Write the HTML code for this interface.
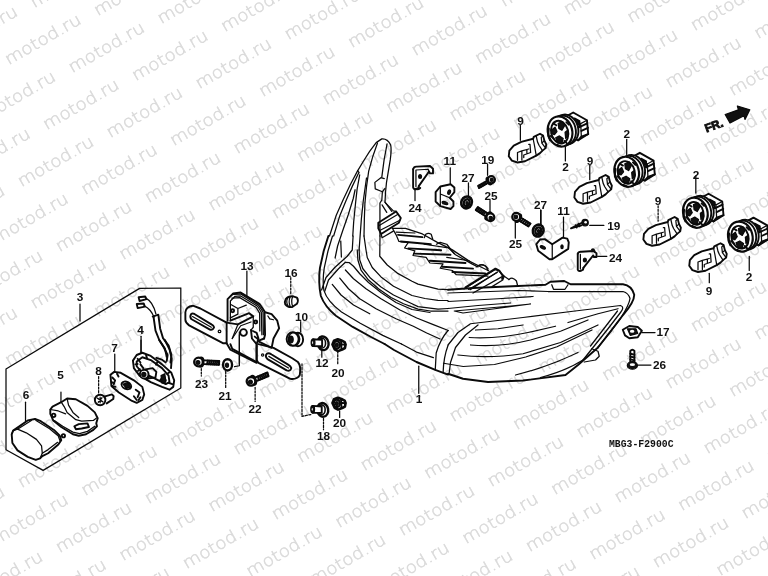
<!DOCTYPE html>
<html><head><meta charset="utf-8"><title>motod.ru</title>
<style>
html,body{margin:0;padding:0;background:#fff;}
body{width:768px;height:576px;overflow:hidden;position:relative;}
svg{position:absolute;left:0;top:0;display:block;}
.wm text{font-family:"DejaVu Sans Light","DejaVu Sans","Liberation Sans",sans-serif;font-weight:200;font-size:16.5px;fill:#dadada;stroke:#dadada;stroke-width:0.5px;}
.lb text{font-family:"Liberation Sans",sans-serif;font-weight:bold;font-size:11.8px;fill:#111;stroke:none;}
.d path,.d line,.d polyline,.d ellipse,.d circle,.d rect{fill:none;stroke:#0a0a0a;stroke-width:1.25;stroke-linecap:round;stroke-linejoin:round;vector-effect:non-scaling-stroke;}
.d .f{fill:#111;}
.d .w{fill:#fff;}
.d .t{stroke-width:0.7;stroke:#444;}
.d .k{stroke-width:1.9;}
</style></head><body>
<svg width="768" height="576" viewBox="0 0 768 576">
<rect width="768" height="576" fill="#fff"/>

<g class="wm" opacity="0.999">
<text transform="translate(-58.3,-32.8) rotate(-30)" x="-42.5" y="4.5" textLength="85" lengthAdjust="spacingAndGlyphs">motod.ru</text>
<text transform="translate(5.2,-24.8) rotate(-30)" x="-42.5" y="4.5" textLength="85" lengthAdjust="spacingAndGlyphs">motod.ru</text>
<text transform="translate(-20.2,32.2) rotate(-30)" x="-42.5" y="4.5" textLength="85" lengthAdjust="spacingAndGlyphs">motod.ru</text>
<text transform="translate(-45.6,89.2) rotate(-30)" x="-42.5" y="4.5" textLength="85" lengthAdjust="spacingAndGlyphs">motod.ru</text>
<text transform="translate(68.7,-16.8) rotate(-30)" x="-42.5" y="4.5" textLength="85" lengthAdjust="spacingAndGlyphs">motod.ru</text>
<text transform="translate(43.3,40.2) rotate(-30)" x="-42.5" y="4.5" textLength="85" lengthAdjust="spacingAndGlyphs">motod.ru</text>
<text transform="translate(17.9,97.2) rotate(-30)" x="-42.5" y="4.5" textLength="85" lengthAdjust="spacingAndGlyphs">motod.ru</text>
<text transform="translate(-7.5,154.2) rotate(-30)" x="-42.5" y="4.5" textLength="85" lengthAdjust="spacingAndGlyphs">motod.ru</text>
<text transform="translate(-32.9,211.2) rotate(-30)" x="-42.5" y="4.5" textLength="85" lengthAdjust="spacingAndGlyphs">motod.ru</text>
<text transform="translate(-58.3,268.2) rotate(-30)" x="-42.5" y="4.5" textLength="85" lengthAdjust="spacingAndGlyphs">motod.ru</text>
<text transform="translate(132.2,-8.8) rotate(-30)" x="-42.5" y="4.5" textLength="85" lengthAdjust="spacingAndGlyphs">motod.ru</text>
<text transform="translate(106.8,48.2) rotate(-30)" x="-42.5" y="4.5" textLength="85" lengthAdjust="spacingAndGlyphs">motod.ru</text>
<text transform="translate(81.4,105.2) rotate(-30)" x="-42.5" y="4.5" textLength="85" lengthAdjust="spacingAndGlyphs">motod.ru</text>
<text transform="translate(56.0,162.2) rotate(-30)" x="-42.5" y="4.5" textLength="85" lengthAdjust="spacingAndGlyphs">motod.ru</text>
<text transform="translate(30.6,219.2) rotate(-30)" x="-42.5" y="4.5" textLength="85" lengthAdjust="spacingAndGlyphs">motod.ru</text>
<text transform="translate(5.2,276.2) rotate(-30)" x="-42.5" y="4.5" textLength="85" lengthAdjust="spacingAndGlyphs">motod.ru</text>
<text transform="translate(-20.2,333.2) rotate(-30)" x="-42.5" y="4.5" textLength="85" lengthAdjust="spacingAndGlyphs">motod.ru</text>
<text transform="translate(-45.6,390.2) rotate(-30)" x="-42.5" y="4.5" textLength="85" lengthAdjust="spacingAndGlyphs">motod.ru</text>
<text transform="translate(195.7,-0.8) rotate(-30)" x="-42.5" y="4.5" textLength="85" lengthAdjust="spacingAndGlyphs">motod.ru</text>
<text transform="translate(170.3,56.2) rotate(-30)" x="-42.5" y="4.5" textLength="85" lengthAdjust="spacingAndGlyphs">motod.ru</text>
<text transform="translate(144.9,113.2) rotate(-30)" x="-42.5" y="4.5" textLength="85" lengthAdjust="spacingAndGlyphs">motod.ru</text>
<text transform="translate(119.5,170.2) rotate(-30)" x="-42.5" y="4.5" textLength="85" lengthAdjust="spacingAndGlyphs">motod.ru</text>
<text transform="translate(94.1,227.2) rotate(-30)" x="-42.5" y="4.5" textLength="85" lengthAdjust="spacingAndGlyphs">motod.ru</text>
<text transform="translate(68.7,284.2) rotate(-30)" x="-42.5" y="4.5" textLength="85" lengthAdjust="spacingAndGlyphs">motod.ru</text>
<text transform="translate(43.3,341.2) rotate(-30)" x="-42.5" y="4.5" textLength="85" lengthAdjust="spacingAndGlyphs">motod.ru</text>
<text transform="translate(17.9,398.2) rotate(-30)" x="-42.5" y="4.5" textLength="85" lengthAdjust="spacingAndGlyphs">motod.ru</text>
<text transform="translate(-7.5,455.2) rotate(-30)" x="-42.5" y="4.5" textLength="85" lengthAdjust="spacingAndGlyphs">motod.ru</text>
<text transform="translate(-32.9,512.2) rotate(-30)" x="-42.5" y="4.5" textLength="85" lengthAdjust="spacingAndGlyphs">motod.ru</text>
<text transform="translate(-58.3,569.2) rotate(-30)" x="-42.5" y="4.5" textLength="85" lengthAdjust="spacingAndGlyphs">motod.ru</text>
<text transform="translate(259.2,7.2) rotate(-30)" x="-42.5" y="4.5" textLength="85" lengthAdjust="spacingAndGlyphs">motod.ru</text>
<text transform="translate(233.8,64.2) rotate(-30)" x="-42.5" y="4.5" textLength="85" lengthAdjust="spacingAndGlyphs">motod.ru</text>
<text transform="translate(208.4,121.2) rotate(-30)" x="-42.5" y="4.5" textLength="85" lengthAdjust="spacingAndGlyphs">motod.ru</text>
<text transform="translate(183.0,178.2) rotate(-30)" x="-42.5" y="4.5" textLength="85" lengthAdjust="spacingAndGlyphs">motod.ru</text>
<text transform="translate(157.6,235.2) rotate(-30)" x="-42.5" y="4.5" textLength="85" lengthAdjust="spacingAndGlyphs">motod.ru</text>
<text transform="translate(132.2,292.2) rotate(-30)" x="-42.5" y="4.5" textLength="85" lengthAdjust="spacingAndGlyphs">motod.ru</text>
<text transform="translate(106.8,349.2) rotate(-30)" x="-42.5" y="4.5" textLength="85" lengthAdjust="spacingAndGlyphs">motod.ru</text>
<text transform="translate(81.4,406.2) rotate(-30)" x="-42.5" y="4.5" textLength="85" lengthAdjust="spacingAndGlyphs">motod.ru</text>
<text transform="translate(56.0,463.2) rotate(-30)" x="-42.5" y="4.5" textLength="85" lengthAdjust="spacingAndGlyphs">motod.ru</text>
<text transform="translate(30.6,520.2) rotate(-30)" x="-42.5" y="4.5" textLength="85" lengthAdjust="spacingAndGlyphs">motod.ru</text>
<text transform="translate(5.2,577.2) rotate(-30)" x="-42.5" y="4.5" textLength="85" lengthAdjust="spacingAndGlyphs">motod.ru</text>
<text transform="translate(322.7,15.2) rotate(-30)" x="-42.5" y="4.5" textLength="85" lengthAdjust="spacingAndGlyphs">motod.ru</text>
<text transform="translate(297.3,72.2) rotate(-30)" x="-42.5" y="4.5" textLength="85" lengthAdjust="spacingAndGlyphs">motod.ru</text>
<text transform="translate(271.9,129.2) rotate(-30)" x="-42.5" y="4.5" textLength="85" lengthAdjust="spacingAndGlyphs">motod.ru</text>
<text transform="translate(246.5,186.2) rotate(-30)" x="-42.5" y="4.5" textLength="85" lengthAdjust="spacingAndGlyphs">motod.ru</text>
<text transform="translate(221.1,243.2) rotate(-30)" x="-42.5" y="4.5" textLength="85" lengthAdjust="spacingAndGlyphs">motod.ru</text>
<text transform="translate(195.7,300.2) rotate(-30)" x="-42.5" y="4.5" textLength="85" lengthAdjust="spacingAndGlyphs">motod.ru</text>
<text transform="translate(170.3,357.2) rotate(-30)" x="-42.5" y="4.5" textLength="85" lengthAdjust="spacingAndGlyphs">motod.ru</text>
<text transform="translate(144.9,414.2) rotate(-30)" x="-42.5" y="4.5" textLength="85" lengthAdjust="spacingAndGlyphs">motod.ru</text>
<text transform="translate(119.5,471.2) rotate(-30)" x="-42.5" y="4.5" textLength="85" lengthAdjust="spacingAndGlyphs">motod.ru</text>
<text transform="translate(94.1,528.2) rotate(-30)" x="-42.5" y="4.5" textLength="85" lengthAdjust="spacingAndGlyphs">motod.ru</text>
<text transform="translate(68.7,585.2) rotate(-30)" x="-42.5" y="4.5" textLength="85" lengthAdjust="spacingAndGlyphs">motod.ru</text>
<text transform="translate(411.6,-33.8) rotate(-30)" x="-42.5" y="4.5" textLength="85" lengthAdjust="spacingAndGlyphs">motod.ru</text>
<text transform="translate(386.2,23.2) rotate(-30)" x="-42.5" y="4.5" textLength="85" lengthAdjust="spacingAndGlyphs">motod.ru</text>
<text transform="translate(360.8,80.2) rotate(-30)" x="-42.5" y="4.5" textLength="85" lengthAdjust="spacingAndGlyphs">motod.ru</text>
<text transform="translate(335.4,137.2) rotate(-30)" x="-42.5" y="4.5" textLength="85" lengthAdjust="spacingAndGlyphs">motod.ru</text>
<text transform="translate(310.0,194.2) rotate(-30)" x="-42.5" y="4.5" textLength="85" lengthAdjust="spacingAndGlyphs">motod.ru</text>
<text transform="translate(284.6,251.2) rotate(-30)" x="-42.5" y="4.5" textLength="85" lengthAdjust="spacingAndGlyphs">motod.ru</text>
<text transform="translate(259.2,308.2) rotate(-30)" x="-42.5" y="4.5" textLength="85" lengthAdjust="spacingAndGlyphs">motod.ru</text>
<text transform="translate(233.8,365.2) rotate(-30)" x="-42.5" y="4.5" textLength="85" lengthAdjust="spacingAndGlyphs">motod.ru</text>
<text transform="translate(208.4,422.2) rotate(-30)" x="-42.5" y="4.5" textLength="85" lengthAdjust="spacingAndGlyphs">motod.ru</text>
<text transform="translate(183.0,479.2) rotate(-30)" x="-42.5" y="4.5" textLength="85" lengthAdjust="spacingAndGlyphs">motod.ru</text>
<text transform="translate(157.6,536.2) rotate(-30)" x="-42.5" y="4.5" textLength="85" lengthAdjust="spacingAndGlyphs">motod.ru</text>
<text transform="translate(132.2,593.2) rotate(-30)" x="-42.5" y="4.5" textLength="85" lengthAdjust="spacingAndGlyphs">motod.ru</text>
<text transform="translate(475.1,-25.8) rotate(-30)" x="-42.5" y="4.5" textLength="85" lengthAdjust="spacingAndGlyphs">motod.ru</text>
<text transform="translate(449.7,31.2) rotate(-30)" x="-42.5" y="4.5" textLength="85" lengthAdjust="spacingAndGlyphs">motod.ru</text>
<text transform="translate(424.3,88.2) rotate(-30)" x="-42.5" y="4.5" textLength="85" lengthAdjust="spacingAndGlyphs">motod.ru</text>
<text transform="translate(398.9,145.2) rotate(-30)" x="-42.5" y="4.5" textLength="85" lengthAdjust="spacingAndGlyphs">motod.ru</text>
<text transform="translate(373.5,202.2) rotate(-30)" x="-42.5" y="4.5" textLength="85" lengthAdjust="spacingAndGlyphs">motod.ru</text>
<text transform="translate(348.1,259.2) rotate(-30)" x="-42.5" y="4.5" textLength="85" lengthAdjust="spacingAndGlyphs">motod.ru</text>
<text transform="translate(322.7,316.2) rotate(-30)" x="-42.5" y="4.5" textLength="85" lengthAdjust="spacingAndGlyphs">motod.ru</text>
<text transform="translate(297.3,373.2) rotate(-30)" x="-42.5" y="4.5" textLength="85" lengthAdjust="spacingAndGlyphs">motod.ru</text>
<text transform="translate(271.9,430.2) rotate(-30)" x="-42.5" y="4.5" textLength="85" lengthAdjust="spacingAndGlyphs">motod.ru</text>
<text transform="translate(246.5,487.2) rotate(-30)" x="-42.5" y="4.5" textLength="85" lengthAdjust="spacingAndGlyphs">motod.ru</text>
<text transform="translate(221.1,544.2) rotate(-30)" x="-42.5" y="4.5" textLength="85" lengthAdjust="spacingAndGlyphs">motod.ru</text>
<text transform="translate(195.7,601.2) rotate(-30)" x="-42.5" y="4.5" textLength="85" lengthAdjust="spacingAndGlyphs">motod.ru</text>
<text transform="translate(538.6,-17.8) rotate(-30)" x="-42.5" y="4.5" textLength="85" lengthAdjust="spacingAndGlyphs">motod.ru</text>
<text transform="translate(513.2,39.2) rotate(-30)" x="-42.5" y="4.5" textLength="85" lengthAdjust="spacingAndGlyphs">motod.ru</text>
<text transform="translate(487.8,96.2) rotate(-30)" x="-42.5" y="4.5" textLength="85" lengthAdjust="spacingAndGlyphs">motod.ru</text>
<text transform="translate(462.4,153.2) rotate(-30)" x="-42.5" y="4.5" textLength="85" lengthAdjust="spacingAndGlyphs">motod.ru</text>
<text transform="translate(437.0,210.2) rotate(-30)" x="-42.5" y="4.5" textLength="85" lengthAdjust="spacingAndGlyphs">motod.ru</text>
<text transform="translate(411.6,267.2) rotate(-30)" x="-42.5" y="4.5" textLength="85" lengthAdjust="spacingAndGlyphs">motod.ru</text>
<text transform="translate(386.2,324.2) rotate(-30)" x="-42.5" y="4.5" textLength="85" lengthAdjust="spacingAndGlyphs">motod.ru</text>
<text transform="translate(360.8,381.2) rotate(-30)" x="-42.5" y="4.5" textLength="85" lengthAdjust="spacingAndGlyphs">motod.ru</text>
<text transform="translate(335.4,438.2) rotate(-30)" x="-42.5" y="4.5" textLength="85" lengthAdjust="spacingAndGlyphs">motod.ru</text>
<text transform="translate(310.0,495.2) rotate(-30)" x="-42.5" y="4.5" textLength="85" lengthAdjust="spacingAndGlyphs">motod.ru</text>
<text transform="translate(284.6,552.2) rotate(-30)" x="-42.5" y="4.5" textLength="85" lengthAdjust="spacingAndGlyphs">motod.ru</text>
<text transform="translate(259.2,609.2) rotate(-30)" x="-42.5" y="4.5" textLength="85" lengthAdjust="spacingAndGlyphs">motod.ru</text>
<text transform="translate(602.1,-9.8) rotate(-30)" x="-42.5" y="4.5" textLength="85" lengthAdjust="spacingAndGlyphs">motod.ru</text>
<text transform="translate(576.7,47.2) rotate(-30)" x="-42.5" y="4.5" textLength="85" lengthAdjust="spacingAndGlyphs">motod.ru</text>
<text transform="translate(551.3,104.2) rotate(-30)" x="-42.5" y="4.5" textLength="85" lengthAdjust="spacingAndGlyphs">motod.ru</text>
<text transform="translate(525.9,161.2) rotate(-30)" x="-42.5" y="4.5" textLength="85" lengthAdjust="spacingAndGlyphs">motod.ru</text>
<text transform="translate(500.5,218.2) rotate(-30)" x="-42.5" y="4.5" textLength="85" lengthAdjust="spacingAndGlyphs">motod.ru</text>
<text transform="translate(475.1,275.2) rotate(-30)" x="-42.5" y="4.5" textLength="85" lengthAdjust="spacingAndGlyphs">motod.ru</text>
<text transform="translate(449.7,332.2) rotate(-30)" x="-42.5" y="4.5" textLength="85" lengthAdjust="spacingAndGlyphs">motod.ru</text>
<text transform="translate(424.3,389.2) rotate(-30)" x="-42.5" y="4.5" textLength="85" lengthAdjust="spacingAndGlyphs">motod.ru</text>
<text transform="translate(398.9,446.2) rotate(-30)" x="-42.5" y="4.5" textLength="85" lengthAdjust="spacingAndGlyphs">motod.ru</text>
<text transform="translate(373.5,503.2) rotate(-30)" x="-42.5" y="4.5" textLength="85" lengthAdjust="spacingAndGlyphs">motod.ru</text>
<text transform="translate(348.1,560.2) rotate(-30)" x="-42.5" y="4.5" textLength="85" lengthAdjust="spacingAndGlyphs">motod.ru</text>
<text transform="translate(665.6,-1.8) rotate(-30)" x="-42.5" y="4.5" textLength="85" lengthAdjust="spacingAndGlyphs">motod.ru</text>
<text transform="translate(640.2,55.2) rotate(-30)" x="-42.5" y="4.5" textLength="85" lengthAdjust="spacingAndGlyphs">motod.ru</text>
<text transform="translate(614.8,112.2) rotate(-30)" x="-42.5" y="4.5" textLength="85" lengthAdjust="spacingAndGlyphs">motod.ru</text>
<text transform="translate(589.4,169.2) rotate(-30)" x="-42.5" y="4.5" textLength="85" lengthAdjust="spacingAndGlyphs">motod.ru</text>
<text transform="translate(564.0,226.2) rotate(-30)" x="-42.5" y="4.5" textLength="85" lengthAdjust="spacingAndGlyphs">motod.ru</text>
<text transform="translate(538.6,283.2) rotate(-30)" x="-42.5" y="4.5" textLength="85" lengthAdjust="spacingAndGlyphs">motod.ru</text>
<text transform="translate(513.2,340.2) rotate(-30)" x="-42.5" y="4.5" textLength="85" lengthAdjust="spacingAndGlyphs">motod.ru</text>
<text transform="translate(487.8,397.2) rotate(-30)" x="-42.5" y="4.5" textLength="85" lengthAdjust="spacingAndGlyphs">motod.ru</text>
<text transform="translate(462.4,454.2) rotate(-30)" x="-42.5" y="4.5" textLength="85" lengthAdjust="spacingAndGlyphs">motod.ru</text>
<text transform="translate(437.0,511.2) rotate(-30)" x="-42.5" y="4.5" textLength="85" lengthAdjust="spacingAndGlyphs">motod.ru</text>
<text transform="translate(411.6,568.2) rotate(-30)" x="-42.5" y="4.5" textLength="85" lengthAdjust="spacingAndGlyphs">motod.ru</text>
<text transform="translate(729.1,6.2) rotate(-30)" x="-42.5" y="4.5" textLength="85" lengthAdjust="spacingAndGlyphs">motod.ru</text>
<text transform="translate(703.7,63.2) rotate(-30)" x="-42.5" y="4.5" textLength="85" lengthAdjust="spacingAndGlyphs">motod.ru</text>
<text transform="translate(678.3,120.2) rotate(-30)" x="-42.5" y="4.5" textLength="85" lengthAdjust="spacingAndGlyphs">motod.ru</text>
<text transform="translate(652.9,177.2) rotate(-30)" x="-42.5" y="4.5" textLength="85" lengthAdjust="spacingAndGlyphs">motod.ru</text>
<text transform="translate(627.5,234.2) rotate(-30)" x="-42.5" y="4.5" textLength="85" lengthAdjust="spacingAndGlyphs">motod.ru</text>
<text transform="translate(602.1,291.2) rotate(-30)" x="-42.5" y="4.5" textLength="85" lengthAdjust="spacingAndGlyphs">motod.ru</text>
<text transform="translate(576.7,348.2) rotate(-30)" x="-42.5" y="4.5" textLength="85" lengthAdjust="spacingAndGlyphs">motod.ru</text>
<text transform="translate(551.3,405.2) rotate(-30)" x="-42.5" y="4.5" textLength="85" lengthAdjust="spacingAndGlyphs">motod.ru</text>
<text transform="translate(525.9,462.2) rotate(-30)" x="-42.5" y="4.5" textLength="85" lengthAdjust="spacingAndGlyphs">motod.ru</text>
<text transform="translate(500.5,519.2) rotate(-30)" x="-42.5" y="4.5" textLength="85" lengthAdjust="spacingAndGlyphs">motod.ru</text>
<text transform="translate(475.1,576.2) rotate(-30)" x="-42.5" y="4.5" textLength="85" lengthAdjust="spacingAndGlyphs">motod.ru</text>
<text transform="translate(792.6,14.2) rotate(-30)" x="-42.5" y="4.5" textLength="85" lengthAdjust="spacingAndGlyphs">motod.ru</text>
<text transform="translate(767.2,71.2) rotate(-30)" x="-42.5" y="4.5" textLength="85" lengthAdjust="spacingAndGlyphs">motod.ru</text>
<text transform="translate(741.8,128.2) rotate(-30)" x="-42.5" y="4.5" textLength="85" lengthAdjust="spacingAndGlyphs">motod.ru</text>
<text transform="translate(716.4,185.2) rotate(-30)" x="-42.5" y="4.5" textLength="85" lengthAdjust="spacingAndGlyphs">motod.ru</text>
<text transform="translate(691.0,242.2) rotate(-30)" x="-42.5" y="4.5" textLength="85" lengthAdjust="spacingAndGlyphs">motod.ru</text>
<text transform="translate(665.6,299.2) rotate(-30)" x="-42.5" y="4.5" textLength="85" lengthAdjust="spacingAndGlyphs">motod.ru</text>
<text transform="translate(640.2,356.2) rotate(-30)" x="-42.5" y="4.5" textLength="85" lengthAdjust="spacingAndGlyphs">motod.ru</text>
<text transform="translate(614.8,413.2) rotate(-30)" x="-42.5" y="4.5" textLength="85" lengthAdjust="spacingAndGlyphs">motod.ru</text>
<text transform="translate(589.4,470.2) rotate(-30)" x="-42.5" y="4.5" textLength="85" lengthAdjust="spacingAndGlyphs">motod.ru</text>
<text transform="translate(564.0,527.2) rotate(-30)" x="-42.5" y="4.5" textLength="85" lengthAdjust="spacingAndGlyphs">motod.ru</text>
<text transform="translate(538.6,584.2) rotate(-30)" x="-42.5" y="4.5" textLength="85" lengthAdjust="spacingAndGlyphs">motod.ru</text>
<text transform="translate(805.3,136.2) rotate(-30)" x="-42.5" y="4.5" textLength="85" lengthAdjust="spacingAndGlyphs">motod.ru</text>
<text transform="translate(779.9,193.2) rotate(-30)" x="-42.5" y="4.5" textLength="85" lengthAdjust="spacingAndGlyphs">motod.ru</text>
<text transform="translate(754.5,250.2) rotate(-30)" x="-42.5" y="4.5" textLength="85" lengthAdjust="spacingAndGlyphs">motod.ru</text>
<text transform="translate(729.1,307.2) rotate(-30)" x="-42.5" y="4.5" textLength="85" lengthAdjust="spacingAndGlyphs">motod.ru</text>
<text transform="translate(703.7,364.2) rotate(-30)" x="-42.5" y="4.5" textLength="85" lengthAdjust="spacingAndGlyphs">motod.ru</text>
<text transform="translate(678.3,421.2) rotate(-30)" x="-42.5" y="4.5" textLength="85" lengthAdjust="spacingAndGlyphs">motod.ru</text>
<text transform="translate(652.9,478.2) rotate(-30)" x="-42.5" y="4.5" textLength="85" lengthAdjust="spacingAndGlyphs">motod.ru</text>
<text transform="translate(627.5,535.2) rotate(-30)" x="-42.5" y="4.5" textLength="85" lengthAdjust="spacingAndGlyphs">motod.ru</text>
<text transform="translate(602.1,592.2) rotate(-30)" x="-42.5" y="4.5" textLength="85" lengthAdjust="spacingAndGlyphs">motod.ru</text>
<text transform="translate(818.0,258.2) rotate(-30)" x="-42.5" y="4.5" textLength="85" lengthAdjust="spacingAndGlyphs">motod.ru</text>
<text transform="translate(792.6,315.2) rotate(-30)" x="-42.5" y="4.5" textLength="85" lengthAdjust="spacingAndGlyphs">motod.ru</text>
<text transform="translate(767.2,372.2) rotate(-30)" x="-42.5" y="4.5" textLength="85" lengthAdjust="spacingAndGlyphs">motod.ru</text>
<text transform="translate(741.8,429.2) rotate(-30)" x="-42.5" y="4.5" textLength="85" lengthAdjust="spacingAndGlyphs">motod.ru</text>
<text transform="translate(716.4,486.2) rotate(-30)" x="-42.5" y="4.5" textLength="85" lengthAdjust="spacingAndGlyphs">motod.ru</text>
<text transform="translate(691.0,543.2) rotate(-30)" x="-42.5" y="4.5" textLength="85" lengthAdjust="spacingAndGlyphs">motod.ru</text>
<text transform="translate(665.6,600.2) rotate(-30)" x="-42.5" y="4.5" textLength="85" lengthAdjust="spacingAndGlyphs">motod.ru</text>
<text transform="translate(805.3,437.2) rotate(-30)" x="-42.5" y="4.5" textLength="85" lengthAdjust="spacingAndGlyphs">motod.ru</text>
<text transform="translate(779.9,494.2) rotate(-30)" x="-42.5" y="4.5" textLength="85" lengthAdjust="spacingAndGlyphs">motod.ru</text>
<text transform="translate(754.5,551.2) rotate(-30)" x="-42.5" y="4.5" textLength="85" lengthAdjust="spacingAndGlyphs">motod.ru</text>
<text transform="translate(729.1,608.2) rotate(-30)" x="-42.5" y="4.5" textLength="85" lengthAdjust="spacingAndGlyphs">motod.ru</text>
<text transform="translate(818.0,559.2) rotate(-30)" x="-42.5" y="4.5" textLength="85" lengthAdjust="spacingAndGlyphs">motod.ru</text>
</g>
<g class="d">
<g transform="translate(304,128) scale(0.187500)">
<path d="M136,576 L172,465 L210,380 L248,300 L285,230 L315,180 L350,125 L385,78 L415,58 Q445,55 462,90 Q468,110 460,170 L450,230 L440,290 L435,340 L432,395"/>
<path d="M392,80 Q365,150 345,230 Q332,310 325,400 L322,480 L320,576"/>
<path d="M443,85 Q425,170 415,262"/>
<path d="M286,228 L294,238 L290,243 L258,310 L225,385 L192,465 L158,576"/>
<path d="M297,250 Q280,330 275,400 L265,500 L260,576"/>
<path d="M378,290 L410,265 L428,270 M378,290 L380,325 L418,340 L432,322 M418,340 L415,385 L405,400 L405,576"/>
<path d="M432,395 L468,445"/>
</g>
<g transform="translate(304,236) scale(0.187500)">
<path class="k" d="M130,0 L105,80 L85,170 Q75,250 90,320 Q110,375 170,425 L260,485 L360,540 L430,576"/>
<path d="M152,0 L128,80 L108,170 Q98,235 106,290 Q125,350 200,405 L300,465 L420,530 L520,576"/>
</g>
<g transform="translate(448,236) scale(0.187500)">
<path d="M0,60 L40,100 L130,150 L160,165"/>
<path d="M150,165 Q175,145 200,160 L215,185"/>
<path d="M85,282 L250,180 L270,185 L300,215 L292,235 L235,270"/>
<path d="M110,285 L262,195"/>
<path d="M325,232 Q345,215 365,240 L372,268"/>
<path d="M300,215 L325,232"/>
</g>
<g transform="translate(400,164) scale(0.187500)">
<path class="k" d="M70,28 L70,125 Q72,136 85,133 L100,128 L100,118"/>
<path class="k" d="M70,28 Q74,12 90,14 L160,11 L176,25 L176,50 L160,50 L155,40 L100,118"/>
<path d="M85,32 L85,120 M85,32 L150,28 L155,40"/>
<ellipse class="f" cx="107" cy="66" rx="8" ry="10"/>
<path class="k" d="M78,132 Q95,140 108,128"/>
<path d="M80,140 L80,195"/>
<path class="k" d="M190,150 L215,120 L270,108 L290,125 L290,150 L265,180 L285,200 L285,225 L270,240 L215,225 L190,200 Z"/>
<path d="M215,120 L215,225 M215,160 L265,180"/>
<ellipse class="f" cx="262" cy="150" rx="7" ry="12" transform="rotate(20 262 150)"/>
<ellipse class="f" cx="240" cy="208" rx="16" ry="7" transform="rotate(20 240 208)"/>
<path d="M268,20 L268,105"/>
<path d="M365,100 L365,175"/>
<path d="M467,0 L467,60"/>
<path d="M480,195 L480,260"/>
<path d="M615,310 L615,395"/>
<path d="M750,245 L750,325"/>
<ellipse class="w" cx="355" cy="205" rx="28" ry="32" transform="rotate(25 355 205)" style="stroke-width:2.6"/>
<ellipse class="w" cx="356" cy="206" rx="15" ry="19" transform="rotate(25 355 205)" style="stroke-width:2.4"/>
<ellipse class="f" cx="357" cy="208" rx="6" ry="8"/>
<ellipse class="w" cx="737" cy="355" rx="28" ry="32" transform="rotate(25 737 355)" style="stroke-width:2.6"/>
<ellipse class="w" cx="738" cy="356" rx="15" ry="19" transform="rotate(25 737 355)" style="stroke-width:2.4"/>
<ellipse class="f" cx="739" cy="358" rx="6" ry="8"/>
<path class="k w" d="M482,80 L417,117 L423,127 L488,90 Z"/>
<path class="k" d="M456,95 L458,107"/>
<path class="k" d="M447,100 L449,112"/>
<path class="k" d="M437,105 L440,118"/>
<path class="k" d="M428,110 L431,123"/>
<path class="k" d="M419,116 L421,128"/>
<ellipse class="w" cx="476" cy="90" rx="11" ry="21" transform="rotate(150 476 90)" style="stroke-width:1.9"/>
<circle class="w" cx="487" cy="84" r="19" style="stroke-width:2.3"/>
<circle class="f" cx="489" cy="85" r="8"/>
<path class="k w" d="M485,275 L415,230 L405,246 L475,291 Z"/>
<path class="k" d="M457,257 L444,270"/>
<path class="k" d="M449,252 L436,265"/>
<path class="k" d="M441,247 L428,260"/>
<path class="k" d="M433,242 L420,255"/>
<path class="k" d="M425,237 L412,250"/>
<path class="k" d="M417,232 L404,245"/>
<ellipse class="w" cx="471" cy="277" rx="12" ry="23" transform="rotate(-147 471 277)" style="stroke-width:1.9"/>
<circle class="w" cx="482" cy="284" r="21" style="stroke-width:2.3"/>
<circle class="f" cx="484" cy="288" r="9"/>
<path class="k w" d="M617,291 L685,333 L695,317 L627,275 Z"/>
<path class="k" d="M644,307 L657,294"/>
<path class="k" d="M654,313 L667,300"/>
<path class="k" d="M664,319 L677,306"/>
<path class="k" d="M674,325 L686,312"/>
<path class="k" d="M683,331 L696,318"/>
<ellipse class="w" cx="631" cy="289" rx="12" ry="23" transform="rotate(32 631 289)" style="stroke-width:1.9"/>
<circle class="w" cx="620" cy="282" r="21" style="stroke-width:2.3"/>
<circle class="f" cx="618" cy="282" r="9"/>
</g>
<g transform="translate(368,188) scale(0.187500)">
<path class="k" d="M55,185 L150,125 L175,160 L165,185 L70,245 L55,215 Z"/>
<path d="M60,200 L160,140 M65,225 L170,172"/>
<path d="M75,90 L100,130 M92,78 L135,122 L150,125"/>
<path d="M70,245 L75,265 L135,230"/>
<path d="M130,215 L200,215 L290,245 L370,290 L450,330 L540,390 L600,420 L640,440"/>
<path d="M130,215 L150,250 L165,285 L215,290 L195,320 L250,335 L240,360 L310,370 L330,400 L400,405 L385,428 L450,440 L470,462 L560,466 L640,470"/>
<path class="k" d="M160,250 L290,262 M175,285 L335,300 M215,322 L390,332 M245,350 L440,356 M330,388 L520,400 M395,420 L560,430 M450,448 L625,456"/>
<path d="M150,235 L250,240 M300,300 L420,318 M420,370 L540,388"/>
<path d="M300,265 L308,247 Q322,238 337,247 L345,272"/>
<path d="M365,300 L385,290 L420,300 L460,350"/>
<path d="M590,415 Q612,398 640,430"/>
<path class="k" d="M520,530 L680,430 L700,440 L720,470 L715,485"/>
<path d="M545,542 L692,447 M560,560 L720,470"/>
</g>
<g transform="translate(544,236) scale(0.187500)">
<path class="k" d="M180,95 L180,180 Q184,190 196,186 L208,180 L210,170"/>
<path class="k" d="M180,95 Q184,82 200,84 L262,80 L280,92 L280,112 L266,112 L262,104 L210,170"/>
<path d="M194,98 L194,176"/>
<ellipse class="f" cx="218" cy="128" rx="8" ry="10"/>
<path class="k" d="M256,72 Q266,66 270,82"/>
<path d="M286,108 L335,108"/>
<path class="k" d="M420,500 L455,480 L500,485 L522,505 L500,540 L455,545 L432,530 Z"/>
<path class="f" d="M445,495 L490,495 L500,520 L460,530 Z"/>
<ellipse class="w" cx="470" cy="508" rx="12" ry="8" style="stroke:none"/>
<path d="M522,515 L592,515"/>
</g>
<g transform="translate(304,308) scale(0.187500)">
<path class="k" d="M430,192 L480,224 L600,288 L700,330 L768,355"/>
<path d="M520,192 L600,235 L690,265"/>
<path d="M768,120 Q725,170 705,240 L700,330"/>
<path d="M768,200 Q745,260 742,342"/>
<path d="M612,310 L612,455"/>
<path d="M95,220 L95,262"/>
<path d="M180,230 L180,300" style="stroke-dasharray:2 1.5"/>
</g>
<g transform="translate(560,290) scale(0.187500)">
<path d="M415,400 L485,400"/>
<path class="k" d="M375,325 L375,385 M397,325 L397,385 M375,325 Q386,312 397,325"/>
<path class="k" d="M375,340 L397,345 M375,355 L397,360 M375,370 L397,375"/>
<ellipse class="f" cx="386" cy="402" rx="27" ry="20"/>
<ellipse class="w" cx="386" cy="398" rx="14" ry="7" style="stroke:none"/>
</g>
<g transform="translate(496,100) scale(0.187500)">
<path d="M130,135 L130,215"/>
<path d="M370,250 L370,325"/>
<path d="M697,210 L697,290"/>
<path d="M500,348 L500,425"/>
</g>
<g transform="translate(624,172) scale(0.187500)">
<path d="M182,180 L182,262" style="stroke-dasharray:2 1.5"/>
<path d="M383,20 L383,112"/>
<path d="M668,450 L668,525"/>
<path d="M455,540 L455,590"/>
</g>
<g transform="translate(0,0) scale(1.000000)">
<path class="f" d="M725.2,114.5 L738.4,109.8 L737.4,106 L749.8,109.8 L745,119.4 L744,115.6 L730,123 Z"/>
<text transform="translate(706.5,132.5) rotate(-20)" style="font-family:'Liberation Sans',sans-serif;font-weight:bold;font-size:11.5px;fill:#111;stroke:#111;stroke-width:0.9">FR.</text>
</g>
<g transform="translate(176,256) scale(0.187500)">
<path class="k" d="M50,300 Q52,270 90,265 L130,280 L270,355 L270,465 L250,465 L70,370 Q50,355 50,340 Z"/>
<path class="k" d="M81,309 Q72,322 81,336 L181,393 Q196,397 203,380 Q200,370 191,366 L98,309 Q88,304 81,309 Z"/>
<path d="M88,323 L188,380"/>
<circle cx="232" cy="402" r="7"/>
<path class="k" d="M275,345 L275,230 L305,200 L345,195 L445,255 L472,295 L475,420 L470,440"/>
<path d="M290,340 L290,240 L315,215 L345,213 L435,268 L455,300 L458,420"/>
<path d="M298,225 L340,222 L428,275 L446,305 L447,400"/>
<path d="M305,205 L345,203 L440,262 L464,298 L466,420"/>
<path d="M295,260 L330,280 L330,310 L290,330 M330,280 L375,262"/>
<circle cx="302" cy="292" r="8" class="k"/>
<path class="k" d="M290,345 L390,305 L412,322 L330,365 L270,355"/>
<path d="M412,322 L412,380 L400,395 M330,365 L300,440"/>
<circle cx="425" cy="352" r="8" class="k"/>
<path class="k" d="M475,300 L510,310 L540,345 L550,385 L520,440 L510,490 L440,455"/>
<path d="M490,320 L500,335 L520,340"/>
<path class="k" d="M270,465 L290,500 L430,570 L430,470 L405,440 L400,395"/>
<path d="M300,440 L345,372 L400,352"/>
<circle cx="360" cy="408" r="18" class="k"/>
<path d="M338,420 L338,576"/>
<path class="k" d="M410,400 L430,410 L440,440 L430,470 M420,430 L445,450 L470,440"/>
<path class="k" d="M585,230 Q600,212 625,215 L645,222 Q655,235 645,255 L620,272 Q595,275 583,258 Q578,242 585,230"/>
<path d="M595,225 Q585,245 598,268 M608,220 Q598,245 610,272 M622,217 Q612,240 622,268"/>
<path d="M612,115 L612,205" style="stroke-dasharray:2 1.5"/>
<ellipse class="k w" cx="650" cy="445" rx="28" ry="36"/>
<ellipse class="k w" cx="622" cy="443" rx="32" ry="36"/>
<ellipse class="f" cx="612" cy="445" rx="13" ry="18"/>
<ellipse cx="630" cy="443" rx="30" ry="36"/>
<path d="M665,350 L665,405"/>
<path d="M378,80 L378,210"/>
</g>
<g transform="translate(176,332) scale(0.187500)">
<path class="k" d="M440,65 L520,85 L620,140 L650,160 Q668,180 660,230 Q645,255 610,250 L440,165 L430,150 L430,70"/>
<path class="k" d="M485,115 Q472,128 488,145 L590,205 Q610,212 615,192 Q612,182 600,175 L510,120 Q495,110 485,115 Z"/>
<path d="M495,130 L600,192"/>
<circle cx="462" cy="122" r="6"/>
<path class="k" d="M290,65 L300,90 L430,160"/>
<path d="M338,0 L338,180 L312,185"/>
<path d="M135,195 L135,235 M265,210 L265,300 M422,295 L422,370" style="stroke-dasharray:2 1.5"/>
<path d="M672,170 L672,450 L720,440" style="stroke-dasharray:2 1.5"/>
<ellipse class="w" cx="275" cy="175" rx="24" ry="30" style="stroke-width:2.4"/>
<ellipse class="f" cx="272" cy="177" rx="8" ry="11"/>
<path class="k w" d="M122,170 L230,175 L230,155 L122,150 Z"/>
<path class="k" d="M165,172 L170,152"/>
<path class="k" d="M175,172 L180,153"/>
<path class="k" d="M185,173 L190,153"/>
<path class="k" d="M196,173 L201,154"/>
<path class="k" d="M206,174 L211,154"/>
<path class="k" d="M216,174 L221,155"/>
<path class="k" d="M226,175 L231,155"/>
<ellipse class="w" cx="134" cy="161" rx="13" ry="25" transform="rotate(3 134 161)" style="stroke-width:1.9"/>
<circle class="w" cx="120" cy="160" r="23" style="stroke-width:2.3"/>
<circle class="f" cx="117" cy="162" r="10"/>
<path class="k w" d="M406,271 L494,235 L486,217 L398,253 Z"/>
<path class="k" d="M441,257 L437,237"/>
<path class="k" d="M451,253 L447,233"/>
<path class="k" d="M461,249 L457,229"/>
<path class="k" d="M471,245 L467,224"/>
<path class="k" d="M481,240 L477,220"/>
<path class="k" d="M491,236 L487,216"/>
<ellipse class="w" cx="413" cy="257" rx="13" ry="25" transform="rotate(-22 413 257)" style="stroke-width:1.9"/>
<circle class="w" cx="400" cy="263" r="23" style="stroke-width:2.3"/>
<circle class="f" cx="397" cy="266" r="10"/>
</g>
<g transform="translate(72,340) scale(0.187500)">
<path class="k" d="M325,110 L345,80 L375,68 L420,85 L480,130 L530,175 L545,215 L540,250 L520,265 L480,250 L420,225 L360,190 L330,150 Z"/>
<path class="k" d="M345,115 L375,92 L420,107 L480,150 L515,190 L520,225 L500,235 L440,205 L370,170 L345,140 Z"/>
<path class="k" d="M338,130 L350,128 M395,80 L400,98 M455,118 L448,132 M520,172 L508,180 M535,235 L515,228 M400,210 L410,195 M352,165 L362,155"/>
<path class="k" d="M385,158 L430,150 L450,170 L445,200 L400,205"/>
<circle class="k w" cx="385" cy="182" r="23"/>
<circle class="f" cx="383" cy="184" r="11"/>
<path class="k" d="M350,100 L365,120 M470,215 L490,190 L500,215 M365,130 L380,150"/>
<path class="f" d="M475,190 L495,180 L500,225 L480,230 Z"/>
<path class="k" d="M465,0 L490,40 L510,80 L505,112 M495,0 L520,50 L532,100 L528,150"/>
<path class="k" d="M450,95 L480,105 L500,120"/>
<path d="M368,0 L368,68"/>
<path class="k" d="M205,185 L225,170 L260,175 L330,215 L375,250 L385,290 L375,320 L345,335 L320,325 L250,280 L210,245 Z"/>
<ellipse class="k" cx="290" cy="242" rx="27" ry="19" transform="rotate(25 290 242)"/>
<path class="f" d="M272,235 L300,228 L312,250 L290,258 Z"/>
<path class="k" d="M215,200 L230,215 L222,235 M340,265 L360,280 L350,305 M330,300 L345,320 M212,225 L225,232 M215,245 L232,250 M240,180 L248,195 M355,320 L365,305"/>
<path d="M228,75 L228,170"/>
<circle class="k w" cx="150" cy="320" r="28"/>
<path class="k" d="M172,302 L213,290 L222,300 L220,315 L185,338"/>
<path d="M135,310 L165,330 M140,332 L160,308 M150,305 L150,335"/>
<path d="M142,195 L142,290" style="stroke-dasharray:2 1.5"/>
</g>
<g transform="translate(0,0) scale(1.000000)">
<path d="M6,369 L139.6,288.4 L180.8,288 L180.8,388 L43.1,470.4 L6,449.8 Z"/>
</g>
<g transform="translate(0,372) scale(0.187500)">
</g>
<g transform="translate(88,280) scale(0.187500)">
<path class="k" d="M270,92 L305,88 L312,102 L275,112 Z M260,128 L297,125 L303,142 L265,150 Z"/>
<path d="M310,98 Q345,115 362,180 M300,138 Q335,155 352,198"/>
<path class="k" d="M345,195 L375,185 L385,260 L400,310 L430,350 L445,400 L440,440"/>
<path class="k" d="M350,200 L360,270 L380,320 L410,365 L420,410"/>
<path d="M283,300 L283,390"/>
</g>
<g transform="translate(0,0) scale(1.000000)">
<path d="M80,304 L80,321"/>
</g>
<g transform="translate(280,364) scale(0.187500)">
<path d="M318,250 L318,285"/>
<path d="M232,290 L232,350" style="stroke-dasharray:2 1.5"/>
</g>
<g transform="translate(496,172) scale(0.187500)">
<path class="k" d="M215,385 L235,360 L260,358 L300,385 L355,350 L380,355 L388,375 L385,410 L300,465 L285,465 L225,420 Z"/>
<path d="M300,385 L300,465"/>
<ellipse class="f" cx="250" cy="402" rx="15" ry="7" transform="rotate(30 250 402)"/>
<ellipse class="f" cx="352" cy="398" rx="6" ry="10"/>
<path d="M240,205 L240,280"/>
<path d="M360,240 L360,350"/>
<path d="M500,285 L575,285"/>
<path class="k" d="M455,272 L400,300 L455,285"/>
<path class="k" d="M440,276 L445,290 M425,284 L430,296"/>
<circle class="f" cx="475" cy="270" r="17"/>
<circle class="w" cx="478" cy="268" r="7" style="stroke:none"/>
</g>
<g transform="translate(0,0) scale(1.000000)">
<text x="609" y="446.5" textLength="64.5" lengthAdjust="spacingAndGlyphs" style="font-family:'Liberation Mono',monospace;font-weight:bold;font-size:10.5px;fill:#111;stroke:none">MBG3-F2900C</text>
</g>
<g transform="translate(560.7,130.9) scale(0.125000)">
<path class="k w" d="M60,-125 L100,-147 L210,-85 L220,25 L140,75 L100,60 Z"/>
<path d="M210,-85 L160,-58 L60,-125 M160,-58 L165,45"/>
<path class="k" d="M110,-100 L150,-78 L150,-30 L212,-60 M150,-30 L120,-40"/>
<path class="f" d="M118,-92 L145,-78 L145,-50 L118,-62 Z"/>
<path class="k" d="M165,0 L218,-25 M140,75 L165,45 L220,25"/>
<ellipse class="k w" cx="45" cy="-12" rx="95" ry="120" transform="rotate(-15 45 -12)"/>
<ellipse class="k w" cx="25" cy="-5" rx="95" ry="120" transform="rotate(-15 25 -5)"/>
<ellipse class="w" cx="-5" cy="5" rx="97" ry="122" transform="rotate(-15 -5 5)" style="stroke-width:2.2"/>
<ellipse class="k" cx="-8" cy="10" rx="68" ry="92" transform="rotate(-15 -8 10)"/>
<path class="f" d="M-20,-60 L15,-75 L30,-40 L10,-5 L-15,-20 Z"/>
<path class="f" d="M-70,-10 L-45,-30 L-30,5 L-50,30 L-75,20 Z"/>
<path class="f" d="M-40,55 L-10,40 L20,60 L10,95 L-25,95 Z"/>
<path class="f" d="M35,10 L55,-5 L60,40 L40,60 Z"/>
<path class="k" d="M-60,-60 L-35,-45 M-80,40 L-55,60 M30,80 L50,100 M-95,-20 L-100,40 L-85,75"/>
<path class="k" d="M-30,110 L-5,122 M45,-70 L65,-50"/>
</g>
<g transform="translate(627.3,171.2) scale(0.125000)">
<path class="k w" d="M60,-125 L100,-147 L210,-85 L220,25 L140,75 L100,60 Z"/>
<path d="M210,-85 L160,-58 L60,-125 M160,-58 L165,45"/>
<path class="k" d="M110,-100 L150,-78 L150,-30 L212,-60 M150,-30 L120,-40"/>
<path class="f" d="M118,-92 L145,-78 L145,-50 L118,-62 Z"/>
<path class="k" d="M165,0 L218,-25 M140,75 L165,45 L220,25"/>
<ellipse class="k w" cx="45" cy="-12" rx="95" ry="120" transform="rotate(-15 45 -12)"/>
<ellipse class="k w" cx="25" cy="-5" rx="95" ry="120" transform="rotate(-15 25 -5)"/>
<ellipse class="w" cx="-5" cy="5" rx="97" ry="122" transform="rotate(-15 -5 5)" style="stroke-width:2.2"/>
<ellipse class="k" cx="-8" cy="10" rx="68" ry="92" transform="rotate(-15 -8 10)"/>
<path class="f" d="M-20,-60 L15,-75 L30,-40 L10,-5 L-15,-20 Z"/>
<path class="f" d="M-70,-10 L-45,-30 L-30,5 L-50,30 L-75,20 Z"/>
<path class="f" d="M-40,55 L-10,40 L20,60 L10,95 L-25,95 Z"/>
<path class="f" d="M35,10 L55,-5 L60,40 L40,60 Z"/>
<path class="k" d="M-60,-60 L-35,-45 M-80,40 L-55,60 M30,80 L50,100 M-95,-20 L-100,40 L-85,75"/>
<path class="k" d="M-30,110 L-5,122 M45,-70 L65,-50"/>
</g>
<g transform="translate(696.0,212.1) scale(0.125000)">
<path class="k w" d="M60,-125 L100,-147 L210,-85 L220,25 L140,75 L100,60 Z"/>
<path d="M210,-85 L160,-58 L60,-125 M160,-58 L165,45"/>
<path class="k" d="M110,-100 L150,-78 L150,-30 L212,-60 M150,-30 L120,-40"/>
<path class="f" d="M118,-92 L145,-78 L145,-50 L118,-62 Z"/>
<path class="k" d="M165,0 L218,-25 M140,75 L165,45 L220,25"/>
<ellipse class="k w" cx="45" cy="-12" rx="95" ry="120" transform="rotate(-15 45 -12)"/>
<ellipse class="k w" cx="25" cy="-5" rx="95" ry="120" transform="rotate(-15 25 -5)"/>
<ellipse class="w" cx="-5" cy="5" rx="97" ry="122" transform="rotate(-15 -5 5)" style="stroke-width:2.2"/>
<ellipse class="k" cx="-8" cy="10" rx="68" ry="92" transform="rotate(-15 -8 10)"/>
<path class="f" d="M-20,-60 L15,-75 L30,-40 L10,-5 L-15,-20 Z"/>
<path class="f" d="M-70,-10 L-45,-30 L-30,5 L-50,30 L-75,20 Z"/>
<path class="f" d="M-40,55 L-10,40 L20,60 L10,95 L-25,95 Z"/>
<path class="f" d="M35,10 L55,-5 L60,40 L40,60 Z"/>
<path class="k" d="M-60,-60 L-35,-45 M-80,40 L-55,60 M30,80 L50,100 M-95,-20 L-100,40 L-85,75"/>
<path class="k" d="M-30,110 L-5,122 M45,-70 L65,-50"/>
</g>
<g transform="translate(741.0,236.0) scale(0.125000)">
<path class="k w" d="M60,-125 L100,-147 L210,-85 L220,25 L140,75 L100,60 Z"/>
<path d="M210,-85 L160,-58 L60,-125 M160,-58 L165,45"/>
<path class="k" d="M110,-100 L150,-78 L150,-30 L212,-60 M150,-30 L120,-40"/>
<path class="f" d="M118,-92 L145,-78 L145,-50 L118,-62 Z"/>
<path class="k" d="M165,0 L218,-25 M140,75 L165,45 L220,25"/>
<ellipse class="k w" cx="45" cy="-12" rx="95" ry="120" transform="rotate(-15 45 -12)"/>
<ellipse class="k w" cx="25" cy="-5" rx="95" ry="120" transform="rotate(-15 25 -5)"/>
<ellipse class="w" cx="-5" cy="5" rx="97" ry="122" transform="rotate(-15 -5 5)" style="stroke-width:2.2"/>
<ellipse class="k" cx="-8" cy="10" rx="68" ry="92" transform="rotate(-15 -8 10)"/>
<path class="f" d="M-20,-60 L15,-75 L30,-40 L10,-5 L-15,-20 Z"/>
<path class="f" d="M-70,-10 L-45,-30 L-30,5 L-50,30 L-75,20 Z"/>
<path class="f" d="M-40,55 L-10,40 L20,60 L10,95 L-25,95 Z"/>
<path class="f" d="M35,10 L55,-5 L60,40 L40,60 Z"/>
<path class="k" d="M-60,-60 L-35,-45 M-80,40 L-55,60 M30,80 L50,100 M-95,-20 L-100,40 L-85,75"/>
<path class="k" d="M-30,110 L-5,122 M45,-70 L65,-50"/>
</g>
<g transform="translate(0,0) scale(1.000000)">
<path d="M380,236 L379.75,256.25 L387.25,265 L397.25,273.1 L412,281.25 L418,284.1 L438,289.1 L448,289.6"/>
<path d="M364,236 L366,250 L367.25,257.5 L372.25,267.5 L381,276.9 L393.5,286.25 L412,295.5 L425,298.5 L438,300.4 L448,300.5"/>
<path d="M359.1,250 L359.75,260 L362.9,268.75 L370.4,278.1 L381,286.9 L393.5,295 L412,303.75 L418,306.6 L438,309.1 L448,308.5"/>
<path d="M357.25,250 L357.9,260 L361,270 L368.5,280 L378.5,288.75 L391,297.5 L403.5,303.75 L418,309.1 L430.5,311 L448,311"/>
<path d="M324.75,291.25 L328.5,280 L338.5,268.75 L345.4,262.25 L349.1,262.5 L353.5,266.25 L359.75,273.75 L368.5,282.5 L381,292.5 L396,302.5 L412,309.5 L430,312.5"/>
<path d="M345.4,270 L353.5,278.75 L366,288.75 L381,298.75 L400,310 L416.7,318 L433.3,324.7 L448.3,330.5"/>
<path d="M339.75,278.1 L348.5,288.75 L359.75,298.75 L376,308.75 L396,318.75 L413.3,326.3 L426.7,333 L440,339"/>
<path d="M332.25,284.4 L341,295 L353.5,305 L369.75,313.75"/>
<path d="M355.1,189.75 L353.25,198.5 L348.25,214.75 L342.6,231 L337.6,246 L335.1,258"/>
<path d="M340.75,241 L341.4,257"/>
<path d="M366.5,178 L363.25,201 L361.4,218.5 L360.1,236 L359.1,250"/>
<path d="M353.1,236 L352.25,250 L347.25,256.25 L334.75,267.5 L326,277.5 L321.6,290"/>
</g>
<g transform="translate(448,236) scale(0.250000)">
<path class="k" d="M0,215 L100,208 L280,200 L390,195 L410,183 L465,180 L490,193 L700,193 Q735,198 745,235 Q745,265 700,316 L650,382 L600,446"/>
<path d="M415,195 L422,213 L468,213 L480,195"/>
<path d="M0,228 L280,218 L400,222 L700,222 Q722,228 728,250 Q725,275 690,330 L640,395 L600,445"/>
<path d="M0,262 L200,251 L340,242"/>
<path d="M25,300 L230,282 L330,272 L60,308 Z"/>
<path d="M0,290 L120,278 L250,268"/>
<path d="M0,436 L40,386 L90,351 L300,326 L500,301 L690,278 Q708,284 690,306 L640,371 L580,446 L540,496"/>
<path d="M5,546 L10,506 L30,446 L70,396 L120,356"/>
<path d="M678,300 L570,440"/>
<path d="M110,376 L200,371 L300,356"/>
<path d="M85,406 Q200,412 320,386 L430,361"/>
<path d="M90,436 Q210,446 330,416 L450,381 L560,336"/>
<path d="M40,476 Q160,492 300,471 L450,426 L600,356"/>
<path d="M270,556 Q400,524 520,466"/>
<path d="M370,566 Q470,540 540,496"/>
<path d="M480,346 L600,311 L680,291"/>
<path d="M-18,509 L61,522 L186,514 L311,484 L436,443 L576,376"/>
<path class="k" d="M0,551 L60,571 L160,584 L300,578 L470,556 L520,516 L600,446"/>
<path d="M575,451 L600,461 L605,481 L590,496 L545,504"/>
</g>
<g transform="translate(0,392) scale(0.145833)">
<path class="k w" d="M90,265 L190,195 L240,185 L280,200 L370,260 L410,300 L420,330 L400,360 L330,420 L290,440 L275,455 L245,465 L190,445 L120,400 L85,350 L80,290 Z"/>
<path d="M80,290 L90,265 L120,255 L180,280 L250,325 L285,370 L290,420 L275,455"/>
<path d="M120,255 L215,195 M240,185 L250,197 L340,252 L400,302 L410,332"/>
<path d="M290,420 L330,395 L395,345"/>
<circle class="k w" cx="435" cy="300" r="11"/>
<path d="M175,70 L175,195"/>
<path class="k w" d="M345,120 L360,100 L420,70 L460,45 L520,50 L600,95 L650,140 L670,180 L660,215 L665,235 L640,260 L590,290 L540,300 L500,290 L420,240 L365,195 L345,150 Z"/>
<path d="M420,70 L440,100 L460,140 L520,190 L560,200 L640,195 L660,180"/>
<path d="M345,120 L400,130 L450,150 M460,45 L470,90 L500,140 L540,175"/>
<path class="k" d="M510,235 L540,220 L600,215 L610,240 L560,250 L520,255 Z"/>
<path d="M365,195 L380,200 L430,235 L500,275 L545,285 L600,270 L650,235"/>
<circle class="k" cx="368" cy="160" r="12"/>
<path d="M418,0 L418,70"/>
</g>
<g transform="translate(500,120) scale(0.125000)">
<path class="k w" d="M265,150 L170,175 L110,205 L75,245 L70,290 L95,325 L140,340 L200,330 L290,285 L320,265 L340,245 L365,225 L370,195 L355,165 L345,125 L320,110 L270,135 Z"/>
<path d="M265,150 L275,200 L290,285 M290,130 L300,175 L312,202 L340,245 M345,125 L330,140 L335,185 L355,165 M335,185 L365,225"/>
<path d="M140,260 L140,322 M140,260 L175,247 L230,232 M175,247 L175,320 M230,195 L240,195 L245,260 L190,280 L190,300 M215,237 L215,270"/>
</g>
<g transform="translate(565.6,161.25) scale(0.125000)">
<path class="k w" d="M265,150 L170,175 L110,205 L75,245 L70,290 L95,325 L140,340 L200,330 L290,285 L320,265 L340,245 L365,225 L370,195 L355,165 L345,125 L320,110 L270,135 Z"/>
<path d="M265,150 L275,200 L290,285 M290,130 L300,175 L312,202 L340,245 M345,125 L330,140 L335,185 L355,165 M335,185 L365,225"/>
<path d="M140,260 L140,322 M140,260 L175,247 L230,232 M175,247 L175,320 M230,195 L240,195 L245,260 L190,280 L190,300 M215,237 L215,270"/>
</g>
<g transform="translate(634.6,203.25) scale(0.125000)">
<path class="k w" d="M265,150 L170,175 L110,205 L75,245 L70,290 L95,325 L140,340 L200,330 L290,285 L320,265 L340,245 L365,225 L370,195 L355,165 L345,125 L320,110 L270,135 Z"/>
<path d="M265,150 L275,200 L290,285 M290,130 L300,175 L312,202 L340,245 M345,125 L330,140 L335,185 L355,165 M335,185 L365,225"/>
<path d="M140,260 L140,322 M140,260 L175,247 L230,232 M175,247 L175,320 M230,195 L240,195 L245,260 L190,280 L190,300 M215,237 L215,270"/>
</g>
<g transform="translate(680.5,229.5) scale(0.125000)">
<path class="k w" d="M265,150 L170,175 L110,205 L75,245 L70,290 L95,325 L140,340 L200,330 L290,285 L320,265 L340,245 L365,225 L370,195 L355,165 L345,125 L320,110 L270,135 Z"/>
<path d="M265,150 L275,200 L290,285 M290,130 L300,175 L312,202 L340,245 M345,125 L330,140 L335,185 L355,165 M335,185 L365,225"/>
<path d="M140,260 L140,322 M140,260 L175,247 L230,232 M175,247 L175,320 M230,195 L240,195 L245,260 L190,280 L190,300 M215,237 L215,270"/>
</g>
<g transform="translate(304,328) scale(0.062500)">
<ellipse class="w" cx="305" cy="245" rx="88" ry="110" transform="rotate(-10 305 245)" style="stroke-width:2.4"/>
<ellipse cx="290" cy="242" rx="55" ry="78" style="stroke-width:1.6"/>
<path class="k w" d="M145,180 L290,190 L290,292 L145,290 Z"/>
<ellipse class="f" cx="145" cy="235" rx="30" ry="57"/>
<ellipse class="w" cx="138" cy="235" rx="8" ry="22" style="stroke:none"/>
</g>
<g transform="translate(303.6,394.6) scale(0.062500)">
<ellipse class="w" cx="305" cy="245" rx="88" ry="110" transform="rotate(-10 305 245)" style="stroke-width:2.4"/>
<ellipse cx="290" cy="242" rx="55" ry="78" style="stroke-width:1.6"/>
<path class="k w" d="M145,180 L290,190 L290,292 L145,290 Z"/>
<ellipse class="f" cx="145" cy="235" rx="30" ry="57"/>
<ellipse class="w" cx="138" cy="235" rx="8" ry="22" style="stroke:none"/>
</g>
<g transform="translate(304,328) scale(0.062500)">
<path class="w" d="M455,265 L480,205 L540,180 L600,200 L650,225 L665,265 L655,320 L610,345 L545,370 L490,340 Z" style="stroke-width:2.6"/>
<path class="k" d="M592,205 L600,345 M600,260 L662,270"/>
<ellipse class="w" cx="525" cy="270" rx="50" ry="60" style="stroke-width:2.2"/>
<ellipse class="f" cx="525" cy="272" rx="24" ry="32"/>
</g>
<g transform="translate(304,386.5) scale(0.062500)">
<path class="w" d="M455,265 L480,205 L540,180 L600,200 L650,225 L665,265 L655,320 L610,345 L545,370 L490,340 Z" style="stroke-width:2.6"/>
<path class="k" d="M592,205 L600,345 M600,260 L662,270"/>
<ellipse class="w" cx="525" cy="270" rx="50" ry="60" style="stroke-width:2.2"/>
<ellipse class="f" cx="525" cy="272" rx="24" ry="32"/>
</g>
</g>
<g class="lb" opacity="0.999">
<text x="415" y="212" text-anchor="middle">24</text>
<text x="468" y="182" text-anchor="middle">27</text>
<text x="491" y="200" text-anchor="middle">25</text>
<text x="515.5" y="248" text-anchor="middle">25</text>
<text x="615.5" y="262" text-anchor="middle">24</text>
<text x="663" y="336" text-anchor="middle">17</text>
<text x="322" y="367" text-anchor="middle">12</text>
<text x="338" y="377" text-anchor="middle">20</text>
<text x="419" y="403" text-anchor="middle">1</text>
<text x="659.5" y="369.3" text-anchor="middle">26</text>
<text x="520.5" y="124.5" text-anchor="middle">9</text>
<text x="565.5" y="171" text-anchor="middle">2</text>
<text x="626.7" y="138" text-anchor="middle">2</text>
<text x="590" y="164.5" text-anchor="middle">9</text>
<text x="658" y="204.5" text-anchor="middle">9</text>
<text x="696" y="179" text-anchor="middle">2</text>
<text x="749" y="280.5" text-anchor="middle">2</text>
<text x="709" y="295" text-anchor="middle">9</text>
<text x="247" y="270" text-anchor="middle">13</text>
<text x="291" y="277" text-anchor="middle">16</text>
<text x="301.5" y="321" text-anchor="middle">10</text>
<text x="201.5" y="387.5" text-anchor="middle">23</text>
<text x="225" y="400" text-anchor="middle">21</text>
<text x="255" y="413" text-anchor="middle">22</text>
<text x="114.5" y="352" text-anchor="middle">7</text>
<text x="98.5" y="375" text-anchor="middle">8</text>
<text x="26" y="398.8" text-anchor="middle">6</text>
<text x="60.5" y="379" text-anchor="middle">5</text>
<text x="140.5" y="334" text-anchor="middle">4</text>
<text x="80" y="300.5" text-anchor="middle">3</text>
<text x="449.75" y="164.7" text-anchor="middle">11</text>
<text x="487.75" y="164.3" text-anchor="middle">19</text>
<text x="540.6" y="209" text-anchor="middle">27</text>
<text x="563.5" y="214.7" text-anchor="middle">11</text>
<text x="613.75" y="229.7" text-anchor="middle">19</text>
<text x="339.6" y="427.2" text-anchor="middle">20</text>
<text x="323.5" y="440.4" text-anchor="middle">18</text>
</g>
</svg></body></html>
